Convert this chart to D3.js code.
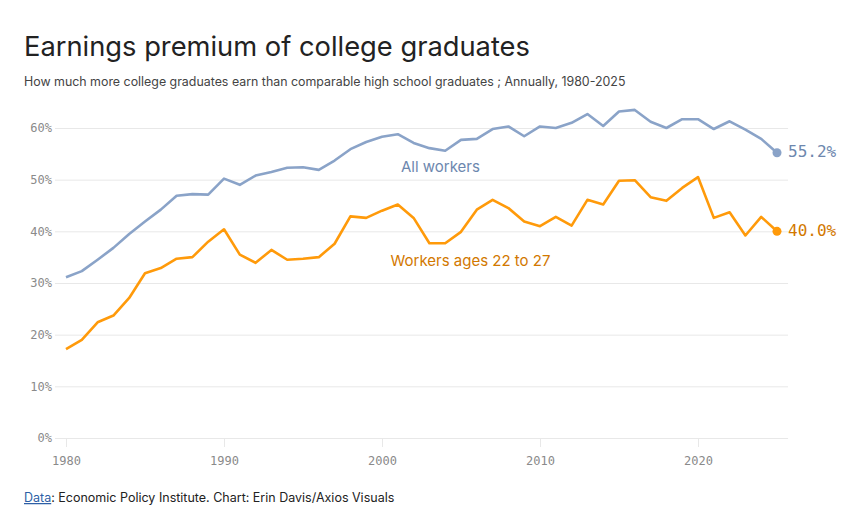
<!DOCTYPE html>
<html>
  <head>
    <meta charset="utf-8">
    <title>Earnings premium of college graduates</title>
    <style>
      body {
        margin: 0;
        background: #fff;
        font-family: Inter, "Noto Sans", sans-serif;
      }
      .grid line {
        stroke: #e8e8e8;
      }
      .tick text {
        font-family: "DejaVu Sans Mono", monospace;
        font-size: 12px;
        fill: #8a8a8a;
      }
    </style>
  </head>

  <body>
    <div id="chart"></div>

    <script src="https://d3js.org/d3.v7.min.js"></script>
    <script>
      const years = d3.range(1980, 2026);

      const allWorkers = [
        31.1, 32.3, 34.5, 36.8, 39.5, 41.9, 44.2, 46.9, 47.2, 47.1,
        50.2, 49.0, 50.8, 51.5, 52.3, 52.4, 51.9, 53.7, 55.9, 57.3,
        58.3, 58.8, 57.1, 56.1, 55.6, 57.7, 57.9, 59.8, 60.3, 58.4,
        60.3, 60.0, 61.0, 62.7, 60.4, 63.2, 63.5, 61.2, 60.0, 61.7,
        61.7, 59.8, 61.3, 59.7, 57.9, 55.2
      ];

      const youngWorkers = [
        17.2, 19.0, 22.4, 23.7, 27.1, 31.9, 32.9, 34.7, 35.0, 38.0,
        40.4, 35.5, 33.9, 36.4, 34.5, 34.7, 35.0, 37.6, 42.9, 42.6,
        44.0, 45.2, 42.6, 37.7, 37.7, 39.9, 44.2, 46.1, 44.5, 41.9,
        41.0, 42.8, 41.1, 46.1, 45.2, 49.8, 49.9, 46.6, 45.9, 48.4,
        50.5, 42.6, 43.7, 39.2, 42.8, 40.0
      ];

      const yTicks = [0, 10, 20, 30, 40, 50, 60];
      const xTicks = [1980, 1990, 2000, 2010, 2020];

      const series = [
        {name: 'All workers', values: allWorkers, color: '#8aa3c8', textColor: '#6d87ae', label: {year: 2003.7, value: 51.5}},
        {name: 'Workers ages 22 to 27', values: youngWorkers, color: '#ff9a0a', textColor: '#d27800', label: {year: 2005.6, value: 33.3}}
      ];

      const W = 865, H = 530;
      const margin = {top: 128, right: 77, bottom: 92, left: 66};

      const svg = d3.select('#chart')
        .append('svg')
        .attr('width', W)
        .attr('height', H);

      // titles
      svg.append('text')
        .attr('x', 24)
        .attr('y', 56)
        .attr('font-size', 27.3)
        .attr('fill', '#222')
        .text('Earnings premium of college graduates');

      svg.append('text')
        .attr('x', 24)
        .attr('y', 86)
        .attr('font-size', 12.4)
        .attr('fill', '#444')
        .text('How much more college graduates earn than comparable high school graduates ; Annually, 1980-2025');

      let x = d3.scaleLinear()
        .domain([1980, 2025])
        .range([margin.left, 777]);

      let y = d3.scaleLinear()
        .domain([0, 60])
        .range([H - margin.bottom, margin.top]);

      // horizontal grid + y labels
      let yAxis = svg.append('g')
        .attr('class', 'grid')
        .attr('transform', `translate(${x(1980) - 11}, 0)`)
        .call(d3.axisLeft(y)
          .tickValues(yTicks)
          .tickSize(-(x(2025.7) - x(1980) + 11))
          .tickPadding(3)
          .tickFormat(d => d + '%'));
      yAxis.select('.domain').remove();

      // x axis ticks
      let xAxis = svg.append('g')
        .attr('class', 'grid')
        .attr('transform', `translate(0, ${y(0)})`)
        .call(d3.axisBottom(x)
          .tickValues(xTicks)
          .tickSize(9)
          .tickPadding(9)
          .tickFormat(d3.format('d')));
      xAxis.select('.domain').remove();

      let line = d3.line()
        .x((d, i) => x(years[i]))
        .y(d => y(d));

      series.forEach(s => {
        svg.append('path')
          .datum(s.values)
          .attr('fill', 'none')
          .attr('stroke', s.color)
          .attr('stroke-width', 2.6)
          .attr('stroke-linejoin', 'round')
          .attr('d', line);

        let last = s.values[s.values.length - 1];

        svg.append('circle')
          .attr('cx', x(2025))
          .attr('cy', y(last))
          .attr('r', 4.5)
          .attr('fill', s.color);

        svg.append('text')
          .attr('x', x(2025) + 11)
          .attr('y', y(last))
          .attr('dominant-baseline', 'middle')
          .attr('font-family', '"DejaVu Sans Mono", monospace')
          .attr('font-size', 16)
          .attr('fill', s.textColor)
          .text(last.toFixed(1) + '%');

        svg.append('text')
          .attr('x', x(s.label.year))
          .attr('y', y(s.label.value))
          .attr('text-anchor', 'middle')
          .attr('font-size', 15)
          .attr('fill', s.textColor)
          .text(s.name);
      });

      // footer
      let footer = svg.append('text')
        .attr('x', 24)
        .attr('y', 502)
        .attr('font-size', 12.5)
        .attr('fill', '#222');
      footer.append('tspan')
        .attr('fill', '#2d5fa6')
        .attr('text-decoration', 'underline')
        .text('Data');
      footer.append('tspan')
        .text(': Economic Policy Institute. Chart: Erin Davis/Axios Visuals');
    </script>
  </body>
</html>
